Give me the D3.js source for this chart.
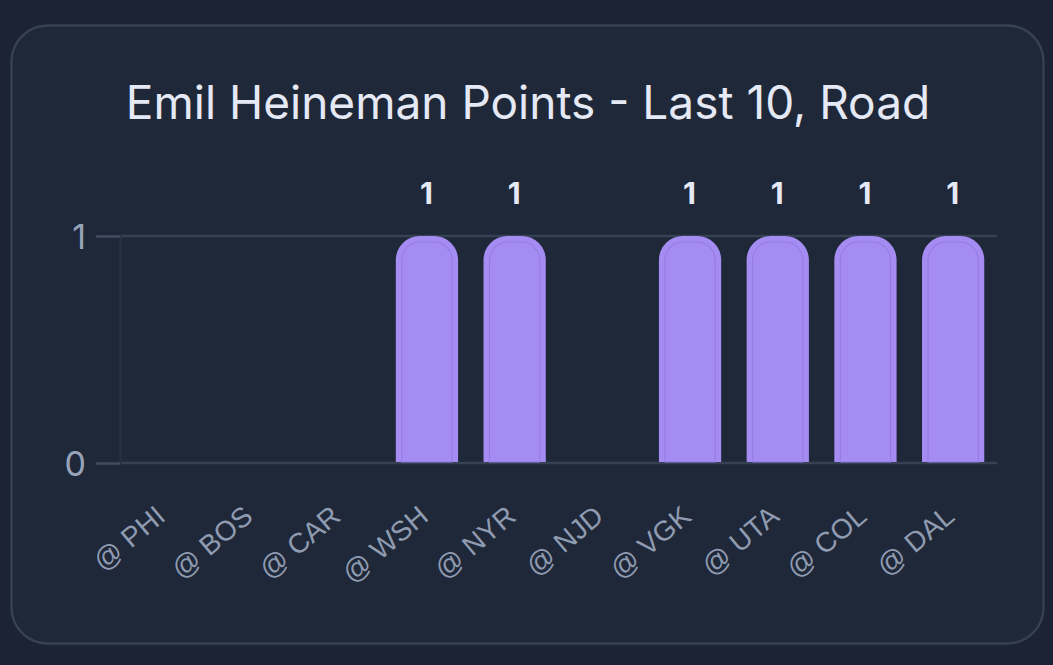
<!DOCTYPE html>
<html><head><meta charset="utf-8">
<script src="https://cdn.jsdelivr.net/npm/d3@7"></script>
<style>html,body{margin:0;padding:0;background:#1c2334;overflow:hidden}svg{display:block}</style>
</head><body><svg id="c" width="1053" height="665"></svg>
<script>
const titleText = "Emil Heineman Points - Last 10, Road";
const categories = ["@ PHI","@ BOS","@ CAR","@ WSH","@ NYR","@ NJD","@ VGK","@ UTA","@ COL","@ DAL"];
const points = [0,0,0,1,1,0,1,1,1,1];
const yTicks = [0,1];

const svg = d3.select("#c");
svg.append("rect").attr("x",11.5).attr("y",25.5).attr("width",1032).attr("height",618).attr("rx",36)
  .attr("fill","#1f2838").attr("stroke","#364154").attr("stroke-width",2.4);
svg.append("text").attr("x",528).attr("y",119).attr("text-anchor","middle")
  .attr("font-family","Inter").attr("font-size",46).attr("fill","#e5e9f5").text(titleText);

const x = d3.scaleBand().domain(categories).range([120,997]).paddingInner(0.29).paddingOuter(0.145);
const y = d3.scaleLinear().domain([0,1]).range([463,236]);

// grid lines
svg.append("g").selectAll("line").data(yTicks).join("line")
  .attr("x1",120).attr("x2",997).attr("y1",d=>y(d)).attr("y2",d=>y(d))
  .attr("stroke","#364154").attr("stroke-width",2.6);

// y axis
const gy = svg.append("g").attr("transform","translate(120,0)")
  .call(d3.axisLeft(y).tickValues(yTicks).tickFormat(d3.format("d")).tickSize(24).tickPadding(10));
gy.select(".domain").attr("stroke","#273142").attr("stroke-width",2.4);
gy.selectAll(".tick line").attr("stroke","#414c60").attr("stroke-width",2.4);
gy.selectAll(".tick text").attr("font-family","Inter").attr("font-size",34).attr("fill","#97a3b8").attr("dy","0.36em");

// x labels
const gx = svg.append("g").attr("transform","translate(0,463)")
  .call(d3.axisBottom(x).tickSize(0).tickPadding(0));
gx.select(".domain").remove();
gx.selectAll(".tick text").attr("text-anchor","end").attr("font-family","'Liberation Sans'").attr("font-size",28)
  .attr("fill","#8f9bb1").attr("y",0).attr("dy",0)
  .attr("transform","translate(3,56) rotate(-40)");

function barPath(l,r,t,b,rad){
  const p=d3.path();
  p.moveTo(l,b);p.lineTo(l,t+rad);p.arcTo(l,t,l+rad,t,rad);
  p.lineTo(r-rad,t);p.arcTo(r,t,r,t+rad,rad);p.lineTo(r,b);p.closePath();
  return p.toString();
}
const pos = categories.map((c,i)=>({c,v:points[i]})).filter(d=>d.v>0);
svg.append("g").selectAll("path").data(pos).join("path")
  .attr("d",d=>barPath(x(d.c),x(d.c)+x.bandwidth(),y(d.v),y(0)-1,24))
  .attr("fill","#a58cf3");
svg.append("g").selectAll("path").data(pos).join("path")
  .attr("d",d=>barPath(x(d.c)+6,x(d.c)+x.bandwidth()-6,y(d.v)+6,y(0)-1,18))
  .attr("fill","none").attr("stroke","#967ce2").attr("stroke-width",1.1);

svg.append("g").selectAll("text").data(pos).join("text")
  .attr("x",d=>x(d.c)+x.bandwidth()/2-0.5).attr("y",d=>y(d.v)-32)
  .attr("text-anchor","middle").attr("font-family","Inter").attr("font-weight",700).attr("font-size",30)
  .attr("fill","#e5e9f5").text(d=>d3.format("d")(d.v));
</script></body></html>
